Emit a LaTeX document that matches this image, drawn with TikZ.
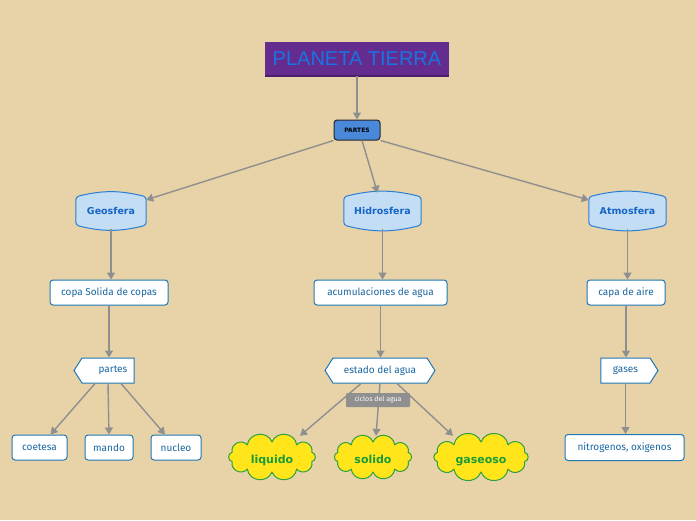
\documentclass[tikz,border=0pt]{standalone}
\usepackage{fontspec}
\setmainfont{Fira Sans}
\newfontfamily\titlefont{Liberation Sans}
\newfontfamily\dvfont{DejaVu Sans}
\usetikzlibrary{arrows.meta,shapes.symbols,shapes.geometric,backgrounds}
\definecolor{bgc}{HTML}{E8D3A9}
\definecolor{tpurple}{HTML}{652C8F}
\definecolor{tline}{HTML}{4A1F6C}
\definecolor{tblue}{HTML}{1874E0}
\definecolor{pblue}{HTML}{4A88DA}
\definecolor{sfill}{HTML}{C3DDF5}
\definecolor{sline}{HTML}{2A7FD4}
\definecolor{stext}{HTML}{1565C8}
\definecolor{bline}{HTML}{1F78B4}
\definecolor{btext}{HTML}{1A66A0}
\definecolor{agray}{HTML}{8F8F8F}
\definecolor{cfill}{HTML}{FFE51A}
\definecolor{cline}{HTML}{2EA03B}
\definecolor{ctext}{HTML}{1B9A3A}
\newcommand\cloudshape[3]{%
  \begin{scope}[on background layer,shift={(#1.center)},x=1pt,y=1pt]
  \draw[cloudline] (18:#2 and #3) \foreach \t in {54,90,...,378} { to[bend right=75,looseness=1.3] (\t:#2 and #3) } -- cycle;
  \end{scope}}
\begin{document}
\begin{tikzpicture}[x=1pt,y=-1pt,
  titlebox/.style={fill=tpurple,text=tblue,font=\titlefont\fontsize{20}{23}\selectfont,minimum width=184pt,minimum height=34pt,inner sep=0pt},
  partesbox/.style={fill=pblue,draw=black!85,line width=1pt,rounded corners=3pt,minimum width=46pt,minimum height=20pt,inner sep=0pt,font=\dvfont\bfseries\fontsize{6}{7}\selectfont},
  sph/.style={minimum height=36pt,inner sep=0pt,text=stext,font=\dvfont\bfseries\fontsize{9.5}{11}\selectfont},
  sphline/.style={fill=sfill,draw=sline,line width=1pt,rounded corners=3pt},
  box/.style={draw=bline,fill=white,line width=1pt,rounded corners=3pt,minimum height=25pt,inner sep=0pt,text=btext,font=\fontsize{10}{12}\selectfont},
  sig/.style={shape=signal,draw=bline,fill=white,line width=1pt,signal pointer angle=115,minimum height=25pt,inner sep=0pt,text=btext,font=\fontsize{10}{12}\selectfont},
  cloudy/.style={minimum height=42pt,inner sep=0pt,text height=12pt,text depth=0pt,text=ctext,font=\dvfont\bfseries\fontsize{11}{13}\selectfont},
  cloudline/.style={draw=cline,fill=cfill,line width=1pt,line join=round},
  arr/.style={draw=agray,line width=1.4pt,-{Triangle[length=7pt,width=8pt]}},
  lbl/.style={fill=agray,text=white,rounded corners=1pt,minimum width=64pt,minimum height=14pt,inner sep=0pt,font=\fontsize{7}{8}\selectfont}
]
\begin{scope}[on background layer]
\fill[bgc] (0,0) rectangle (696,520);
\end{scope}
\useasboundingbox (0,0) rectangle (696,520);

\node[titlebox] (t) at (357,59) {PLANETA TIERRA};
\draw[tline,line width=1.5pt] (t.south west) -- (t.south east);
\node[partesbox] (p) at (357,130) {PARTES};

\node[sph,minimum width=70pt] (geo) at (111,211) {Geosfera};
\node[sph,minimum width=77pt] (hid) at (382.5,211) {Hidrosfera};
\node[sph,minimum width=77pt] (atm) at (627.5,211) {Atmosfera};
\begin{scope}[on background layer]
\foreach \n in {geo,hid,atm}
  \draw[sphline] ([yshift=-4pt]\n.north west) to[bend left=14] ([yshift=-4pt]\n.north east) -- ([yshift=4pt]\n.south east) to[bend left=14] ([yshift=4pt]\n.south west) -- cycle;
\end{scope}

\node[box,minimum width=118pt] (copa) at (109,292.5) {copa Solida de copas};
\node[box,minimum width=133pt] (acu) at (380.5,292.5) {acumulaciones de agua};
\node[box,minimum width=78pt] (capa) at (626,292.5) {capa de aire};

\node[sig,signal to=west,minimum width=60pt] (par) at (108,370.5) {\hspace{10pt}partes};
\node[sig,signal to=west and east,minimum width=110pt] (est) at (380,370.5) {estado del agua};
\node[sig,signal to=east,minimum width=57pt] (gas) at (625.5,370.5) {gases\hspace{12pt}};

\node[box,minimum width=55pt] (coe) at (39.5,447.5) {coetesa};
\node[box,minimum width=48pt] (man) at (109,447.5) {mando};
\node[box,minimum width=50pt] (nuc) at (176,447.5) {nucleo};
\node[box,minimum width=119pt,minimum height=26pt] (nit) at (624.5,447.5) {nitrogenos, oxigenos};

\node[cloudy,minimum width=89pt] (liq) at (272,457) {liquido};
\node[cloudy,minimum width=80pt] (sol) at (373,457) {solido};
\node[cloudy,minimum width=98pt] (gso) at (481,457) {gaseoso};
\cloudshape{liq}{42}{15}
\cloudshape{sol}{37}{15}
\cloudshape{gso}{46}{15}

\draw[arr] (t) -- (p);
\draw[arr] (p.south west) -- (geo);
\draw[arr] ([xshift=5pt]p.south) -- ([xshift=-5pt]hid.north);
\draw[arr] (p.south east) -- (atm);
\draw[arr] (geo.south) -- (geo.south|-copa.north);
\draw[arr] (hid.south) -- (hid.south|-acu.north);
\draw[arr] (atm.south) -- (atm.south|-capa.north);
\draw[arr] (copa.south) -- (copa.south|-par.north);
\draw[arr] (acu.south) -- (acu.south|-est.north);
\draw[arr] (capa.south) -- (capa.south|-gas.north);
\draw[arr] ([xshift=-13pt]par.south) -- ([xshift=11pt]coe.north);
\draw[arr] (par.south) -- (man.north);
\draw[arr] ([xshift=13pt]par.south) -- ([xshift=-11pt]nuc.north);
\draw[arr] ([xshift=-19pt]est.south) -- ([xshift=28pt]liq.north);
\draw[arr] (est.south) -- ([xshift=3pt]sol.north);
\draw[arr] ([xshift=17pt]est.south) -- ([xshift=-28pt]gso.north);
\draw[arr] (gas.south) -- (gas.south|-nit.north);

\node[lbl] (cic) at (378,400) {ciclos del agua};
\end{tikzpicture}
\end{document}
